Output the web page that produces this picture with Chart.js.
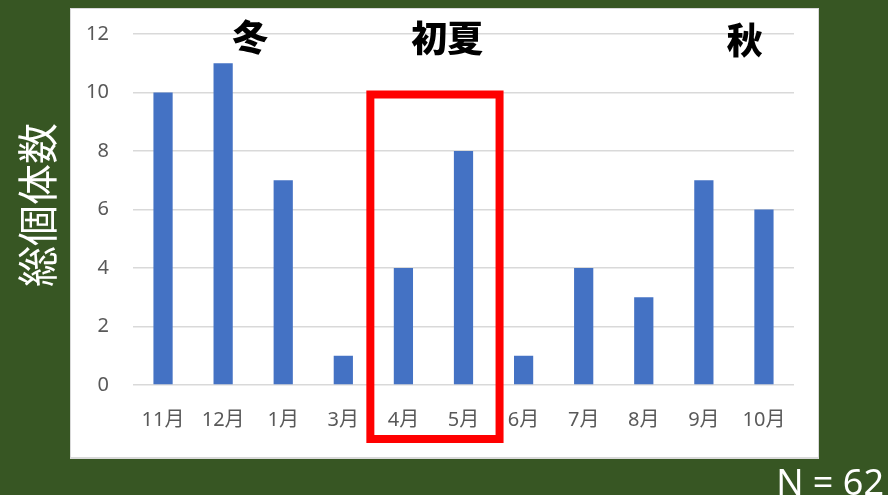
<!DOCTYPE html>
<html>
<head>
<meta charset="utf-8">
<script src="https://cdn.jsdelivr.net/npm/chart.js@4"></script>
<style>
  html, body { margin: 0; padding: 0; background: #375623; }
  #wrap { width: 888px; height: 495px; }
</style>
</head>
<body>
<div id="wrap"><canvas id="chart"></canvas></div>
<script>
const months = ['11月', '12月', '1月', '3月', '4月', '5月', '6月', '7月', '8月', '9月', '10月'];
const counts = [10, 11, 7, 1, 4, 8, 1, 4, 3, 7, 6];
const yTicks = [0, 2, 4, 6, 8, 10, 12];

// season captions, placed at a fractional category index
const seasons = [
  { text: '冬', at: 1.45, y: 37 },
  { text: '初夏', at: 4.73, y: 38 },
  { text: '秋', at: 9.68, y: 40 },
];
// months boxed in red (first and last index)
const highlight = [4, 5];
const total = 62;

const JP = '"Noto Sans CJK JP", "Noto Sans", sans-serif';
const TICK = '"Noto Sans", "Noto Sans CJK JP", sans-serif';

const decor = {
  id: 'decor',
  beforeDraw(chart) {
    const { ctx } = chart;
    ctx.save();
    ctx.fillStyle = '#375623';
    ctx.fillRect(0, 0, chart.width, chart.height);
    // white panel behind the plot
    ctx.fillStyle = '#d9d9d9';
    ctx.fillRect(70, 8, 749, 451);
    ctx.fillStyle = '#ffffff';
    ctx.fillRect(71, 9, 747, 448);

    // vertical axis title
    ctx.translate(37, 205);
    ctx.rotate(-Math.PI / 2);
    ctx.fillStyle = '#ffffff';
    ctx.font = '41px ' + JP;
    ctx.textAlign = 'center';
    ctx.textBaseline = 'middle';
    ctx.fillText('総個体数', 0, 0);
    ctx.restore();
  },
  afterDraw(chart) {
    const { ctx, scales } = chart;
    const x = scales.x, y = scales.y;
    const step = x.getPixelForValue(1) - x.getPixelForValue(0);
    ctx.save();

    // red box around the early-summer months
    const left = x.getPixelForValue(highlight[0]) - step * 0.55;
    const right = x.getPixelForValue(highlight[1]) + step * 0.6;
    const top = y.getPixelForValue(10) + 2;
    ctx.strokeStyle = '#ff0000';
    ctx.lineWidth = 8;
    ctx.strokeRect(left, top, right - left, 439 - top);

    ctx.fillStyle = '#000000';
    ctx.font = '900 36px ' + JP;
    ctx.textAlign = 'center';
    ctx.textBaseline = 'middle';
    seasons.forEach(s => {
      const px = x.getPixelForValue(0) + step * s.at;
      ctx.fillText(s.text, px, s.y);
    });

    ctx.fillStyle = '#ffffff';
    ctx.font = '36px "Noto Sans", sans-serif';
    ctx.textAlign = 'right';
    ctx.textBaseline = 'alphabetic';
    ctx.fillText('N = ' + total, 884, 495);
    ctx.restore();
  }
};

new Chart(document.getElementById('chart'), {
  type: 'bar',
  data: {
    labels: months,
    datasets: [{
      data: counts,
      backgroundColor: '#4472c4',
      barPercentage: 0.32,
      categoryPercentage: 1,
    }],
  },
  options: {
    responsive: true,
    maintainAspectRatio: false,
    animation: false,
    layout: { padding: { left: 70, right: 94, top: 33, bottom: 37 } },
    plugins: { legend: { display: false }, tooltip: { enabled: false } },
    scales: {
      x: {
        grid: { display: false, drawTicks: false },
        border: { display: false },
        ticks: {
          color: '#595959',
          font: { family: TICK, size: 20 },
          padding: 23,
          maxRotation: 0,
          autoSkip: false,
        },
        afterFit(scale) { scale.height = 73; },
      },
      y: {
        min: 0,
        max: 12,
        afterBuildTicks(scale) { scale.ticks = yTicks.map(v => ({ value: v })); },
        grid: { color: '#d9d9d9', lineWidth: 1.5, drawTicks: false },
        border: { display: false },
        ticks: {
          color: '#595959',
          font: { family: TICK, size: 20, lineHeight: 1 },
          padding: 24,
        },
        afterFit(scale) { scale.width = 63; },
      },
    },
  },
  plugins: [decor],
});
</script>
</body>
</html>
